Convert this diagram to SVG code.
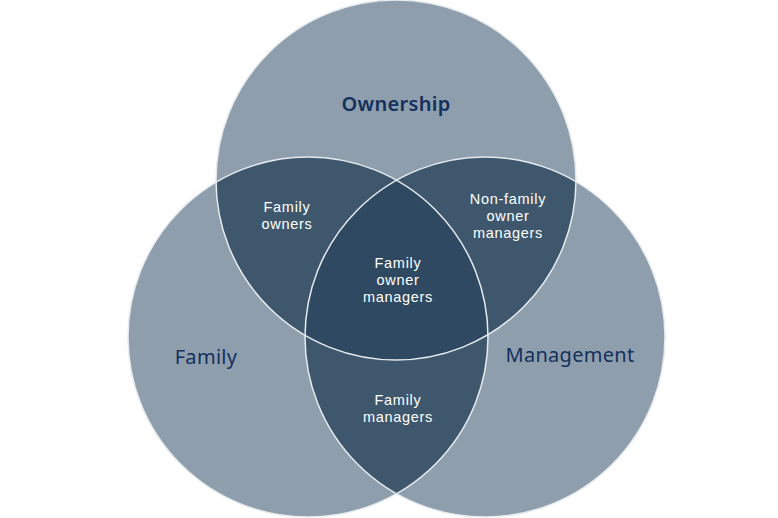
<svg xmlns="http://www.w3.org/2000/svg" width="778" height="518" viewBox="0 0 778 518">
<style>
.base{fill:#8f9eac}
.two{fill:#3e576c}
.three{fill:#2e4961}
.edge{fill:none;stroke:#e6ebee;stroke-width:1.5}
.big{font-family:"Noto Sans","Open Sans",sans-serif;font-size:20px;fill:#13305e;text-anchor:middle;letter-spacing:0.3px}
.small{font-family:"Liberation Sans",Arial,sans-serif;font-size:14.5px;fill:#ffffff;text-anchor:middle;letter-spacing:0.7px}
</style>
<defs>
<clipPath id="cO"><circle cx="396" cy="180" r="180"/></clipPath>
<clipPath id="cF"><circle cx="308" cy="337" r="180"/></clipPath>
</defs>
<rect width="778" height="518" fill="#ffffff"/>
<g id="ownership"><circle class="base" cx="396" cy="180" r="180"/></g>
<g id="family"><circle class="base" cx="308" cy="337" r="180"/></g>
<g id="management"><circle class="base" cx="485" cy="337" r="180"/></g>
<g id="family-owners" clip-path="url(#cO)"><circle class="two" cx="308" cy="337" r="180"/></g>
<g id="nonfamily-owner-managers" clip-path="url(#cO)"><circle class="two" cx="485" cy="337" r="180"/></g>
<g id="family-managers" clip-path="url(#cF)"><circle class="two" cx="485" cy="337" r="180"/></g>
<g id="family-owner-managers" clip-path="url(#cO)"><g clip-path="url(#cF)"><circle class="three" cx="485" cy="337" r="180"/></g></g>
<g id="outlines">
<circle class="edge" cx="396" cy="180" r="180"/>
<circle class="edge" cx="308" cy="337" r="180"/>
<circle class="edge" cx="485" cy="337" r="180"/>
</g>
<g id="labels">
<text class="big" x="396" y="111" font-weight="600">Ownership</text>
<text class="big" x="206" y="364">Family</text>
<text class="big" x="570" y="362">Management</text>
<text class="small" x="287" y="212">Family<tspan x="287" dy="16.5">owners</tspan></text>
<text class="small" x="508" y="204">Non-family<tspan x="508" dy="17">owner</tspan><tspan x="508" dy="17">managers</tspan></text>
<text class="small" x="398" y="268">Family<tspan x="398" dy="17">owner</tspan><tspan x="398" dy="17">managers</tspan></text>
<text class="small" x="398" y="405">Family<tspan x="398" dy="17">managers</tspan></text>
</g>
</svg>
